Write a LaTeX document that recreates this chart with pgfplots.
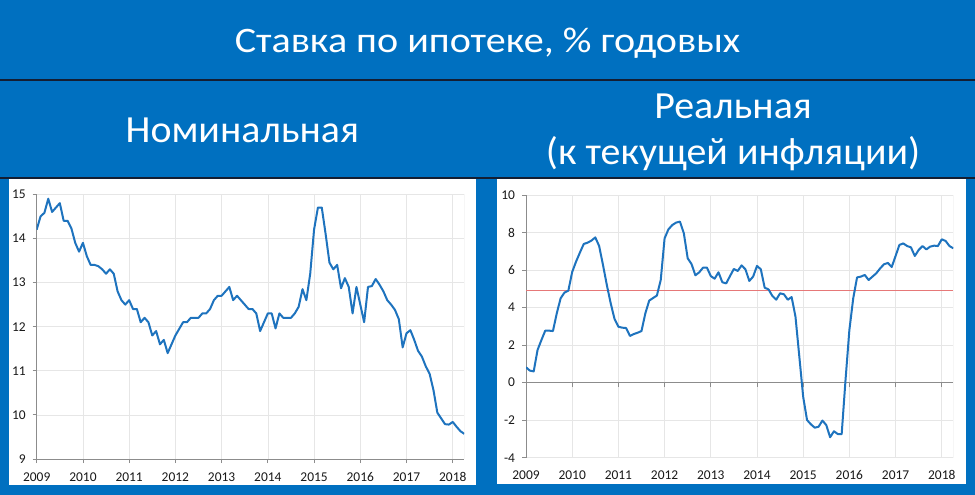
\documentclass[border=0pt]{standalone}
\usepackage{fontspec}
\setmainfont{Carlito}
\usepackage{pgfplots}
\usepackage{pgfplotstable}
\pgfplotsset{compat=1.18}
\definecolor{bgblue}{RGB}{0,112,192}
\definecolor{sepline}{RGB}{20,30,50}
\definecolor{lineblue}{RGB}{30,115,190}
\definecolor{gridc}{RGB}{230,230,230}
\definecolor{axc}{RGB}{140,140,140}
\definecolor{redl}{RGB}{230,120,120}
\definecolor{txt}{RGB}{25,25,25}

\pgfplotstableread{
nom real
14.2 0.82
14.5 0.64
14.58 0.6
14.9 1.74
14.6 2.27
14.7 2.77
14.8 2.77
14.4 2.75
14.4 3.7
14.23 4.5
13.9 4.8
13.7 4.9
13.9 5.9
13.6 6.45
13.4 6.93
13.4 7.39
13.37 7.46
13.3 7.57
13.2 7.74
13.3 7.28
13.2 6.27
12.8 5.2
12.6 4.23
12.5 3.39
12.6 2.98
12.4 2.93
12.4 2.91
12.1 2.49
12.2 2.59
12.1 2.66
11.8 2.75
11.9 3.69
11.6 4.37
11.7 4.51
11.4 4.64
11.6 5.47
11.8 7.69
11.95 8.17
12.1 8.4
12.1 8.53
12.2 8.58
12.2 7.96
12.2 6.63
12.3 6.32
12.3 5.72
12.4 5.88
12.6 6.13
12.7 6.13
12.7 5.68
12.8 5.54
12.9 5.88
12.6 5.35
12.7 5.29
12.6 5.68
12.5 6.06
12.4 5.95
12.4 6.25
12.3 6.04
11.9 5.42
12.1 5.65
12.3 6.22
12.3 6.04
11.96 5.06
12.3 4.97
12.2 4.62
12.2 4.42
12.2 4.76
12.3 4.71
12.45 4.42
12.85 4.56
12.6 3.52
13.2 1.39
14.2 -0.75
14.7 -1.99
14.7 -2.22
14.1 -2.4
13.45 -2.35
13.3 -2.02
13.4 -2.26
12.87 -2.91
13.1 -2.59
12.9 -2.74
12.3 -2.75
12.9 0.14
12.5 2.8
12.1 4.49
12.9 5.61
12.92 5.65
13.08 5.74
12.95 5.47
12.8 5.65
12.6 5.83
12.5 6.09
12.38 6.31
12.17 6.38
11.53 6.16
11.85 6.75
11.92 7.34
11.7 7.42
11.45 7.28
11.32 7.21
11.1 6.75
10.93 7.07
10.56 7.28
10.05 7.1
9.92 7.25
9.79 7.3
9.78 7.28
9.84 7.64
9.73 7.55
9.63 7.28
9.57 7.16
}\mortgage

\pgfplotsset{
  panel/.style={
    scale only axis,
    xmin=0, xmax=111,
    xtick={0,12,...,108},
    xticklabels={2009,2010,2011,2012,2013,2014,2015,2016,2017,2018},
    grid=major,
    major grid style={gridc, line width=0.6bp},
    axis y line*=left,
    axis x line*=bottom,
    axis line style={axc, line width=0.8bp},
    tick style={axc, line width=0.8bp},
    tick align=outside,
    major tick length=4bp,
    tick label style={font=\fontsize{13.5}{15}\selectfont, text=txt},
    xticklabel style={yshift=-5.5bp, text height=9bp, text depth=0bp},
    yticklabel style={xshift=-3.5bp},
    /pgf/number format/assume math mode=true,
    /pgf/number format/1000 sep={},
  }
}

\begin{document}
\begin{tikzpicture}
\path[use as bounding box] (0,0) rectangle (975bp,495bp);
\fill[bgblue] (0,0) rectangle (975bp,495bp);
\draw[sepline, line width=1.5bp] (0,415bp) -- (975bp,415bp);
\draw[sepline, line width=1.5bp] (0,317bp) -- (975bp,317bp);
\fill[white] (9bp,10bp) rectangle (476bp,316bp);
\fill[white] (497bp,11bp) rectangle (966bp,316bp);

\node[anchor=base, text=white, font=\fontsize{36}{40}\selectfont, xscale=1.117] at (487.5bp,442.7bp) {Ставка по ипотеке, \% годовых};
\node[anchor=base, text=white, font=\fontsize{38.5}{42}\selectfont, xscale=1.04] at (242.3bp,352.3bp) {Номинальная};
\node[anchor=base, text=white, font=\fontsize{38.5}{42}\selectfont, xscale=1.04] at (733bp,376bp) {Реальная};
\node[anchor=base, text=white, font=\fontsize{38.5}{42}\selectfont, xscale=1.04] at (733bp,330bp) {(к текущей инфляции)};

\begin{axis}[panel,
  at={(36.7bp,36bp)}, anchor=south west,
  width=427.6bp, height=264.7bp,
  ymin=9, ymax=15, ytick={9,...,15},
]
\addplot[lineblue, line width=2bp, line join=round] table[x expr=\coordindex, y=nom] {\mortgage};
\draw[gridc, line width=0.6bp] (axis cs:111,9) -- (axis cs:111,15);
\end{axis}

\begin{axis}[panel,
  at={(526bp,37.3bp)}, anchor=south west,
  width=427.3bp, height=262.7bp,
  ymin=-4, ymax=10, ytick={-4,-2,...,10},
  x axis line style={draw=none},
  xtick style={draw=none},
]
\draw[gridc, line width=0.6bp] (axis cs:111,-4) -- (axis cs:111,10);
\draw[axc, line width=0.8bp] (axis cs:0,0) -- (axis cs:111,0);
\pgfplotsinvokeforeach{0,12,24,36,48,60,72,84,96,108}{\draw[axc, line width=0.8bp] (axis cs:#1,0) -- ([yshift=-4bp]axis cs:#1,0);}
\addplot[redl, line width=0.8bp] coordinates {(0,4.9) (111,4.9)};
\addplot[lineblue, line width=2bp, line join=round] table[x expr=\coordindex, y=real] {\mortgage};
\end{axis}
\end{tikzpicture}
\end{document}
